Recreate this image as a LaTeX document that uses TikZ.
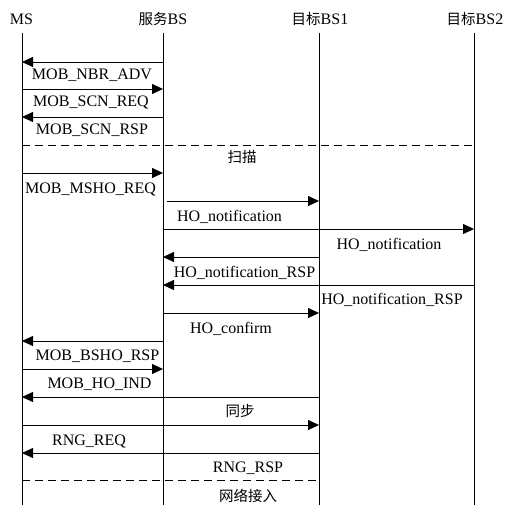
\documentclass[tikz,border=0pt]{standalone}
\usepackage{fontspec}
\setmainfont{Liberation Serif}
\newfontfamily\cjk{Noto Sans CJK SC}
\usetikzlibrary{arrows.meta}
\begin{document}
\begin{tikzpicture}[x=1pt,y=-1pt,line width=0.8pt,
  msg/.style={-{Triangle[length=11pt,width=10pt]}},
  lbl/.style={font=\fontsize{16}{18}\selectfont,inner sep=0pt,anchor=base},
  clbl/.style={font=\cjk\fontsize{14.5}{18}\selectfont,inner sep=0pt,anchor=base},
  hdr/.style={font=\fontsize{16}{18}\selectfont,inner sep=0pt,anchor=base},
  phase/.style={dash pattern=on 8pt off 5pt}]
\useasboundingbox (0,0) rectangle (505,505);
% headers
\node[hdr] (ms) at (21.5,25) {MS};
\node[hdr] (sbs) at (163,25) {{\cjk\fontsize{14.5}{18}\selectfont 服务}BS};
\node[hdr] (bs1) at (320,25) {{\cjk\fontsize{14.5}{18}\selectfont 目标}BS1};
\node[hdr] (bs2) at (475,25) {{\cjk\fontsize{14.5}{18}\selectfont 目标}BS2};
% lifelines
\coordinate (msT) at (22,33);   \coordinate (msB) at (22,505);
\coordinate (sbsT) at (163,33); \coordinate (sbsB) at (163,505);
\coordinate (bs1T) at (319,33); \coordinate (bs1B) at (319,505);
\coordinate (bs2T) at (474,33); \coordinate (bs2B) at (474,505);
\draw (msT) -- (msB);
\draw (sbsT) -- (sbsB);
\draw (bs1T) -- (bs1B);
\draw (bs2T) -- (bs2B);
% message end points
\coordinate (a1) at (163,62);  \coordinate (b1) at (22,62);
\coordinate (a2) at (22,89);   \coordinate (b2) at (163,89);
\coordinate (a3) at (163,117); \coordinate (b3) at (22,117);
\coordinate (d1a) at (22,145); \coordinate (d1b) at (474,145);
\coordinate (a4) at (22,173);  \coordinate (b4) at (163,173);
\coordinate (a5) at (167,201); \coordinate (b5) at (319,201);
\coordinate (a6) at (163,229); \coordinate (b6) at (474,229);
\coordinate (a7) at (319,257); \coordinate (b7) at (163,257);
\coordinate (a8) at (474,285); \coordinate (b8) at (163,285);
\coordinate (a9) at (163,313); \coordinate (b9) at (319,313);
\coordinate (a10) at (163,341); \coordinate (b10) at (22,341);
\coordinate (a11) at (22,369);  \coordinate (b11) at (163,369);
\coordinate (a12) at (319,397); \coordinate (b12) at (22,397);
\coordinate (a13) at (22,425);  \coordinate (b13) at (319,425);
\coordinate (a14) at (319,453); \coordinate (b14) at (22,453);
\coordinate (d2a) at (22,480);  \coordinate (d2b) at (319,480);
% messages
\draw[msg] (a1) -- (b1);
\draw[msg] (a2) -- (b2);
\draw[msg] (a3) -- (b3);
\draw[phase] (d1a) -- (d1b);
\draw[msg] (a4) -- (b4);
\draw[msg] (a5) -- (b5);
\draw[msg] (a6) -- (b6);
\draw[msg] (a7) -- (b7);
\draw[msg] (a8) -- (b8);
\draw[msg] (a9) -- (b9);
\draw[msg] (a10) -- (b10);
\draw[msg] (a11) -- (b11);
\draw[msg] (a12) -- (b12);
\draw[msg] (a13) -- (b13);
\draw[msg] (a14) -- (b14);
\draw[phase] (d2a) -- (d2b);
% labels
\node[lbl] (l1) at (92,80) {MOB\_NBR\_ADV};
\node[lbl] (l2) at (91,107) {MOB\_SCN\_REQ};
\node[lbl] (l3) at (92,135) {MOB\_SCN\_RSP};
\node[clbl] (l4) at (242,162) {扫描};
\node[lbl] (l5) at (90.5,193) {MOB\_MSHO\_REQ};
\node[lbl] (l6) at (229.5,221) {HO\_notification};
\node[lbl] (l7) at (389,249) {HO\_notification};
\node[lbl] (l8) at (244.5,277) {HO\_notification\_RSP};
\node[lbl] (l9) at (392,304) {HO\_notification\_RSP};
\node[lbl] (l10) at (231,333) {HO\_confirm};
\node[lbl] (l11) at (97.5,360) {MOB\_BSHO\_RSP};
\node[lbl] (l12) at (99.5,388) {MOB\_HO\_IND};
\node[clbl] (l13) at (240,416) {同步};
\node[lbl] (l14) at (89,445) {RNG\_REQ};
\node[lbl] (l15) at (248,472) {RNG\_RSP};
\node[clbl] (l16) at (248,501) {网络接入};
\end{tikzpicture}
\end{document}
